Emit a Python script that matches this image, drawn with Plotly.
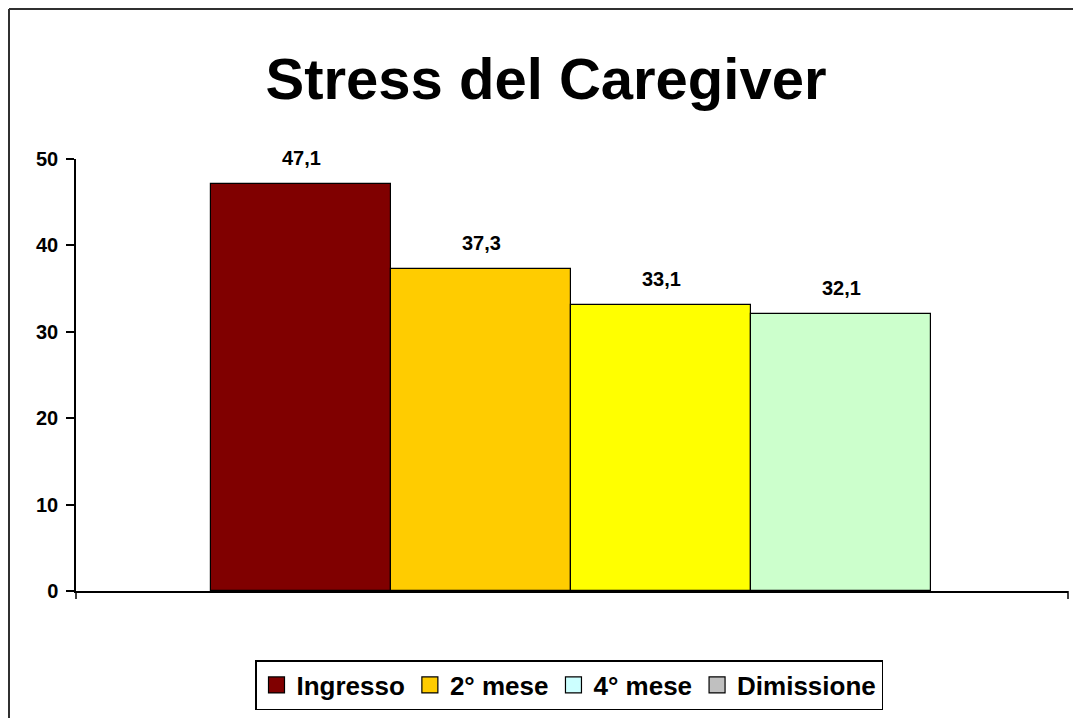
import plotly.graph_objects as go

# Caregiver stress scores at each assessment
phases = ["Ingresso", "2° mese", "4° mese", "Dimissione"]
scores = [47.1, 37.3, 33.1, 32.1]
bar_colors = ["#800000", "#FFCC00", "#FFFF00", "#CCFFCC"]
legend_colors = ["#800000", "#FFCC00", "#CCFFFF", "#C0C0C0"]
y_ticks = [0, 10, 20, 30, 40, 50]

FONT = "Liberation Sans, Arial, sans-serif"

fig = go.Figure()

fig.add_trace(go.Bar(
    x=phases,
    y=scores,
    width=1,
    marker=dict(color=bar_colors, line=dict(color="black", width=1.2)),
    showlegend=False,
    hoverinfo="x+y",
))

# legend entries
for name, col in zip(phases, legend_colors):
    fig.add_trace(go.Scatter(
        x=[None], y=[None], mode="markers", name=name,
        marker=dict(symbol="square", size=16, color=col,
                    line=dict(color="black", width=1.2)),
    ))

# value labels above the bars
for p, v in zip(phases, scores):
    fig.add_annotation(
        x=p, y=v, text=f"{v:.1f}".replace(".", ","),
        showarrow=False, yanchor="bottom", yshift=13,
        font=dict(family=FONT, size=20, color="black", weight="bold"),
    )

# tick marks at the ends of the category axis
for xp in (0, 1):
    fig.add_shape(type="line", xref="paper", yref="paper",
                  x0=xp, x1=xp, y0=0, y1=-8 / 432,
                  line=dict(color="black", width=1.5))

# chart-area frame (left and top edges), kept inside the page
frame_left = (9 - 76) / 992
frame_top = (591 - 9) / 432
frame_bottom = (591 - 718) / 432
frame_right = (1073 - 76) / 992
fig.add_shape(type="line", xref="paper", yref="paper",
              x0=frame_left, x1=frame_left, y0=frame_bottom, y1=frame_top,
              line=dict(color="#303030", width=2))
fig.add_shape(type="line", xref="paper", yref="paper",
              x0=frame_left, x1=frame_right, y0=frame_top, y1=frame_top,
              line=dict(color="#303030", width=2))

fig.update_layout(
    width=1074, height=719,
    margin=dict(l=76, r=6, t=159, b=128),
    paper_bgcolor="white", plot_bgcolor="white",
    bargap=0,
    title=dict(
        text="Stress del Caregiver",
        x=(546 - 76) / 992, xref="paper", xanchor="center",
        y=1 - 79 / 719, yref="container", yanchor="middle",
        font=dict(family=FONT, size=58, color="black", weight="bold"),
    ),
    xaxis=dict(
        type="category", range=[-1.25, 4.26],
        showticklabels=False, ticks="", showline=True,
        linecolor="black", linewidth=1.5, showgrid=False, zeroline=False,
        fixedrange=True,
    ),
    yaxis=dict(
        range=[0, 50], tickvals=y_ticks, ticks="outside", ticklen=8,
        tickwidth=1.5, tickcolor="black", showline=True, linecolor="black",
        linewidth=1.5, showgrid=False, zeroline=False,
        tickfont=dict(family=FONT, size=20, color="black", weight="bold"),
        ticklabelstandoff=4,
    ),
    legend=dict(
        orientation="h", x=(569 - 76) / 992, xanchor="center",
        y=(591 - 685) / 432, yanchor="middle",
        bordercolor="black", borderwidth=1.5, bgcolor="white",
        font=dict(family=FONT, size=26, color="black", weight="bold"),
        itemwidth=30, tracegroupgap=0,
    ),
    showlegend=True,
)

fig.write_html("out.html", config={"displayModeBar": False})
